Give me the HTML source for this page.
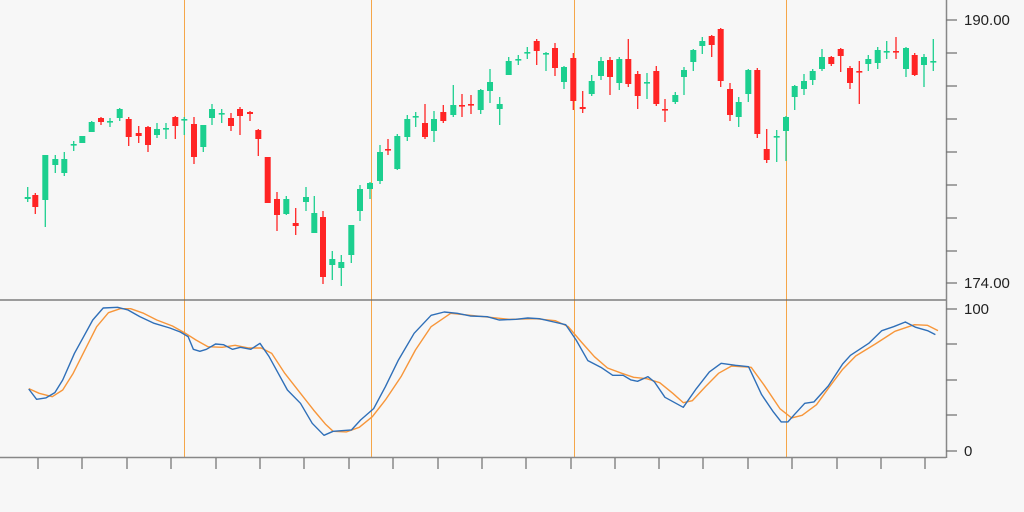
<!DOCTYPE html>
<html><head><meta charset="utf-8"><style>
html,body{margin:0;padding:0;background:#f7f7f7;overflow:hidden;}
svg{display:block;}
text{font-family:"Liberation Sans",sans-serif;fill:#222;}
</style></head><body>
<svg id="s" width="1024" height="512" viewBox="0 0 1024 512" xmlns="http://www.w3.org/2000/svg">
<rect width="1024" height="512" fill="#f7f7f7"/>
<g stroke="#f5a649" stroke-width="1">
<line x1="184.5" y1="0" x2="184.5" y2="457"/>
<line x1="371.5" y1="0" x2="371.5" y2="457"/>
<line x1="574.5" y1="0" x2="574.5" y2="457"/>
<line x1="786.5" y1="0" x2="786.5" y2="457"/>
</g>
<g id="candles"></g>
<g transform="translate(0,290) scale(0.6532,0.3333)" fill="none" stroke-width="1.4" stroke-linejoin="round">
<polyline vector-effect="non-scaling-stroke" stroke="#f7963a" points="44,296 60,310 80,320 96,300 112,250 130,180 148,110 166,68 184,56 200,56 220,70 240,90 264,108 284,130 300,150 318,170 340,172 360,166 380,174 400,174 416,190 436,250 460,310 480,360 498,402 510,424 530,426 550,412 570,380 590,330 614,260 636,180 660,110 690,70 720,76 750,82 780,88 820,86 850,92 870,110 890,156 910,200 930,234 952,250 970,262 990,266 1010,278 1030,310 1046,338 1060,332 1080,290 1100,250 1120,228 1150,232 1170,286 1194,356 1212,384 1228,376 1250,344 1270,290 1290,238 1310,198 1340,162 1370,124 1400,104 1420,106 1436,122"/>
<polyline vector-effect="non-scaling-stroke" stroke="#2f6fb8" points="44,297 56,328 70,324 84,308 96,270 114,190 128,140 142,90 158,54 180,52 196,60 214,80 236,100 260,114 276,126 288,140 296,178 306,184 316,178 330,162 342,164 356,178 368,172 384,178 398,160 412,200 426,250 440,300 460,340 478,400 496,436 510,424 538,420 552,390 572,356 590,290 610,210 634,130 660,76 680,66 700,70 720,78 746,80 764,90 790,88 808,84 826,86 848,96 866,104 882,150 900,212 920,232 938,256 954,256 966,270 976,274 992,260 1002,276 1018,322 1046,352 1066,296 1086,246 1104,220 1126,226 1146,230 1166,314 1184,366 1196,396 1206,396 1216,374 1232,340 1246,336 1268,288 1290,222 1302,196 1330,160 1350,122 1368,110 1386,96 1402,112 1420,122 1432,134"/>
</g>
<line x1="0" y1="300" x2="946" y2="300" stroke="#666" stroke-width="1.2"/>
<line x1="0" y1="457.5" x2="946" y2="457.5" stroke="#888" stroke-width="1.5"/>
<line x1="946.5" y1="0" x2="946.5" y2="458" stroke="#888" stroke-width="1.5"/>
<g id="ticks" stroke="#777" stroke-width="1.3"></g>
<text x="964" y="25" font-size="15">190.00</text>
<text x="964" y="288" font-size="15">174.00</text>
<text x="964" y="314" font-size="15">100</text>
<text x="964" y="456" font-size="15">0</text>
</svg>
<script>
var C=[
[27.7,'g',197,199,187,202],[35.3,'r',195,207,193,214],[45.3,'g',155,200,155,227],[55.3,'g',159,165,155,173],[64.3,'g',159,173,152,176],[73.7,'g',144,145,141,151],[82.3,'g',136,143,136,143],[91.7,'g',122,132,121,132],[101,'r',118,122,117,125],[110,'g',121,122,118,127],[119.7,'g',109,118,108,121],[128.7,'r',119,137,117,146],[138.7,'r',133,136,126,143],[148,'r',127,145,126,152],[157,'g',129,135,123,138],[166,'g',128,129,123,139],[175.3,'r',117,126,116,139],[184.3,'g',119,120,117,135],[194,'r',124,157,117,164],[203.3,'g',125,147,125,152],[212,'g',109,118,104,125],[221.7,'g',113,114,109,123],[231,'r',118,126,113,131],[240,'r',109,116,107,135],[250,'r',112,114,111,121],[258.3,'r',130,139,129,156],[267.7,'r',157,203,157,203],[277,'r',199,215,192,231],[286.3,'g',199,214,196,215],[295.7,'r',223,226,208,235],[306,'g',197,202,187,211],[314.3,'g',213,233,196,233],[323,'r',217,277,211,284],[332.3,'g',259,265,251,280],[341.3,'g',262,268,255,286],[351.3,'g',225,255,225,263],[360,'g',189,211,185,221],[370,'g',183,189,182,199],[380,'g',152,181,145,184],[388,'r',149,150,139,155],[397.3,'g',136,169,134,170],[407.3,'g',119,137,115,141],[415.7,'g',116,117,112,127],[425,'r',123,137,104,139],[434,'g',119,131,111,142],[443.3,'r',112,121,105,123],[453.3,'g',105,115,85,117],[462,'r',105,106,94,117],[471,'r',104,105,95,114],[480.7,'g',90,110,89,114],[490,'g',82,91,69,103],[499.7,'g',104,109,97,125],[508.7,'g',61,75,57,75],
[518.3,'g',59,60,55,65],[527.3,'g',52,53,47,59],[536.7,'r',41,51,39,65],[546,'g',53,54,52,71],[555,'r',48,68,43,76],[564,'g',67,82,66,89],[573.3,'r',58,101,53,110],[582.7,'r',107,109,91,113],[591.7,'g',81,94,75,96],[601,'g',61,76,57,80],[610,'r',60,77,57,95],[619.3,'g',59,83,57,90],[628.3,'r',59,84,39,87],[637.7,'r',74,96,71,109],[647,'g',82,83,73,99],[656.3,'r',71,104,66,106],[665,'r',109,110,99,122],[675.3,'g',95,102,92,104],[684,'g',70,77,67,95],[693.3,'g',50,62,49,71],[702.3,'g',41,46,37,54],[711.7,'r',36,45,35,57],[720.7,'r',29,81,28,87],[730,'r',89,115,83,121],[738.7,'g',102,117,97,127],[748.3,'g',70,94,69,102],[757.3,'r',70,134,68,138],[766.7,'r',149,160,129,163],[776.7,'g',136,137,130,162],[786,'g',117,131,116,161],[794.7,'g',86,97,85,110],[804,'g',81,89,74,95],[812.7,'g',71,80,69,85],[822,'g',57,69,49,71],[831.3,'r',57,64,56,66],[840.7,'r',49,56,48,72],[850,'r',68,83,66,89],[859.3,'r',71,72,61,104],[868.3,'g',59,64,55,71],[877.7,'g',50,63,47,69],[886.7,'g',51,52,41,59],[896,'r',51,52,37,59],[906,'g',48,69,47,77],[914.7,'r',55,75,53,76],[924,'g',57,65,54,87],[933.3,'g',61,62,39,71]];
var g=document.getElementById('candles'),h='';
C.forEach(function(c){var col=c[1]=='g'?'#1ccf8f':'#ff2424';var x=c[0];
h+='<line x1="'+x+'" y1="'+c[4]+'" x2="'+x+'" y2="'+c[5]+'" stroke="'+col+'" stroke-width="1.3"/>';
var bh=Math.max(c[3]-c[2],1.6);
h+='<rect x="'+(x-3)+'" y="'+c[2]+'" width="6" height="'+bh+'" fill="'+col+'"/>';});
g.innerHTML=h;
var t='',tx=[38,82,127,171,216,260,304,349,393,438,482,526,571,615,659,703,748,792,837,881,925];
tx.forEach(function(x){t+='<line x1="'+x+'" y1="458" x2="'+x+'" y2="469"/>';});
[20,53,86,119,152,185,218,251,283,309,344,380,415,451].forEach(function(y){t+='<line x1="946" y1="'+y+'" x2="957" y2="'+y+'"/>';});
document.getElementById('ticks').innerHTML=t;
</script>
</body></html>
